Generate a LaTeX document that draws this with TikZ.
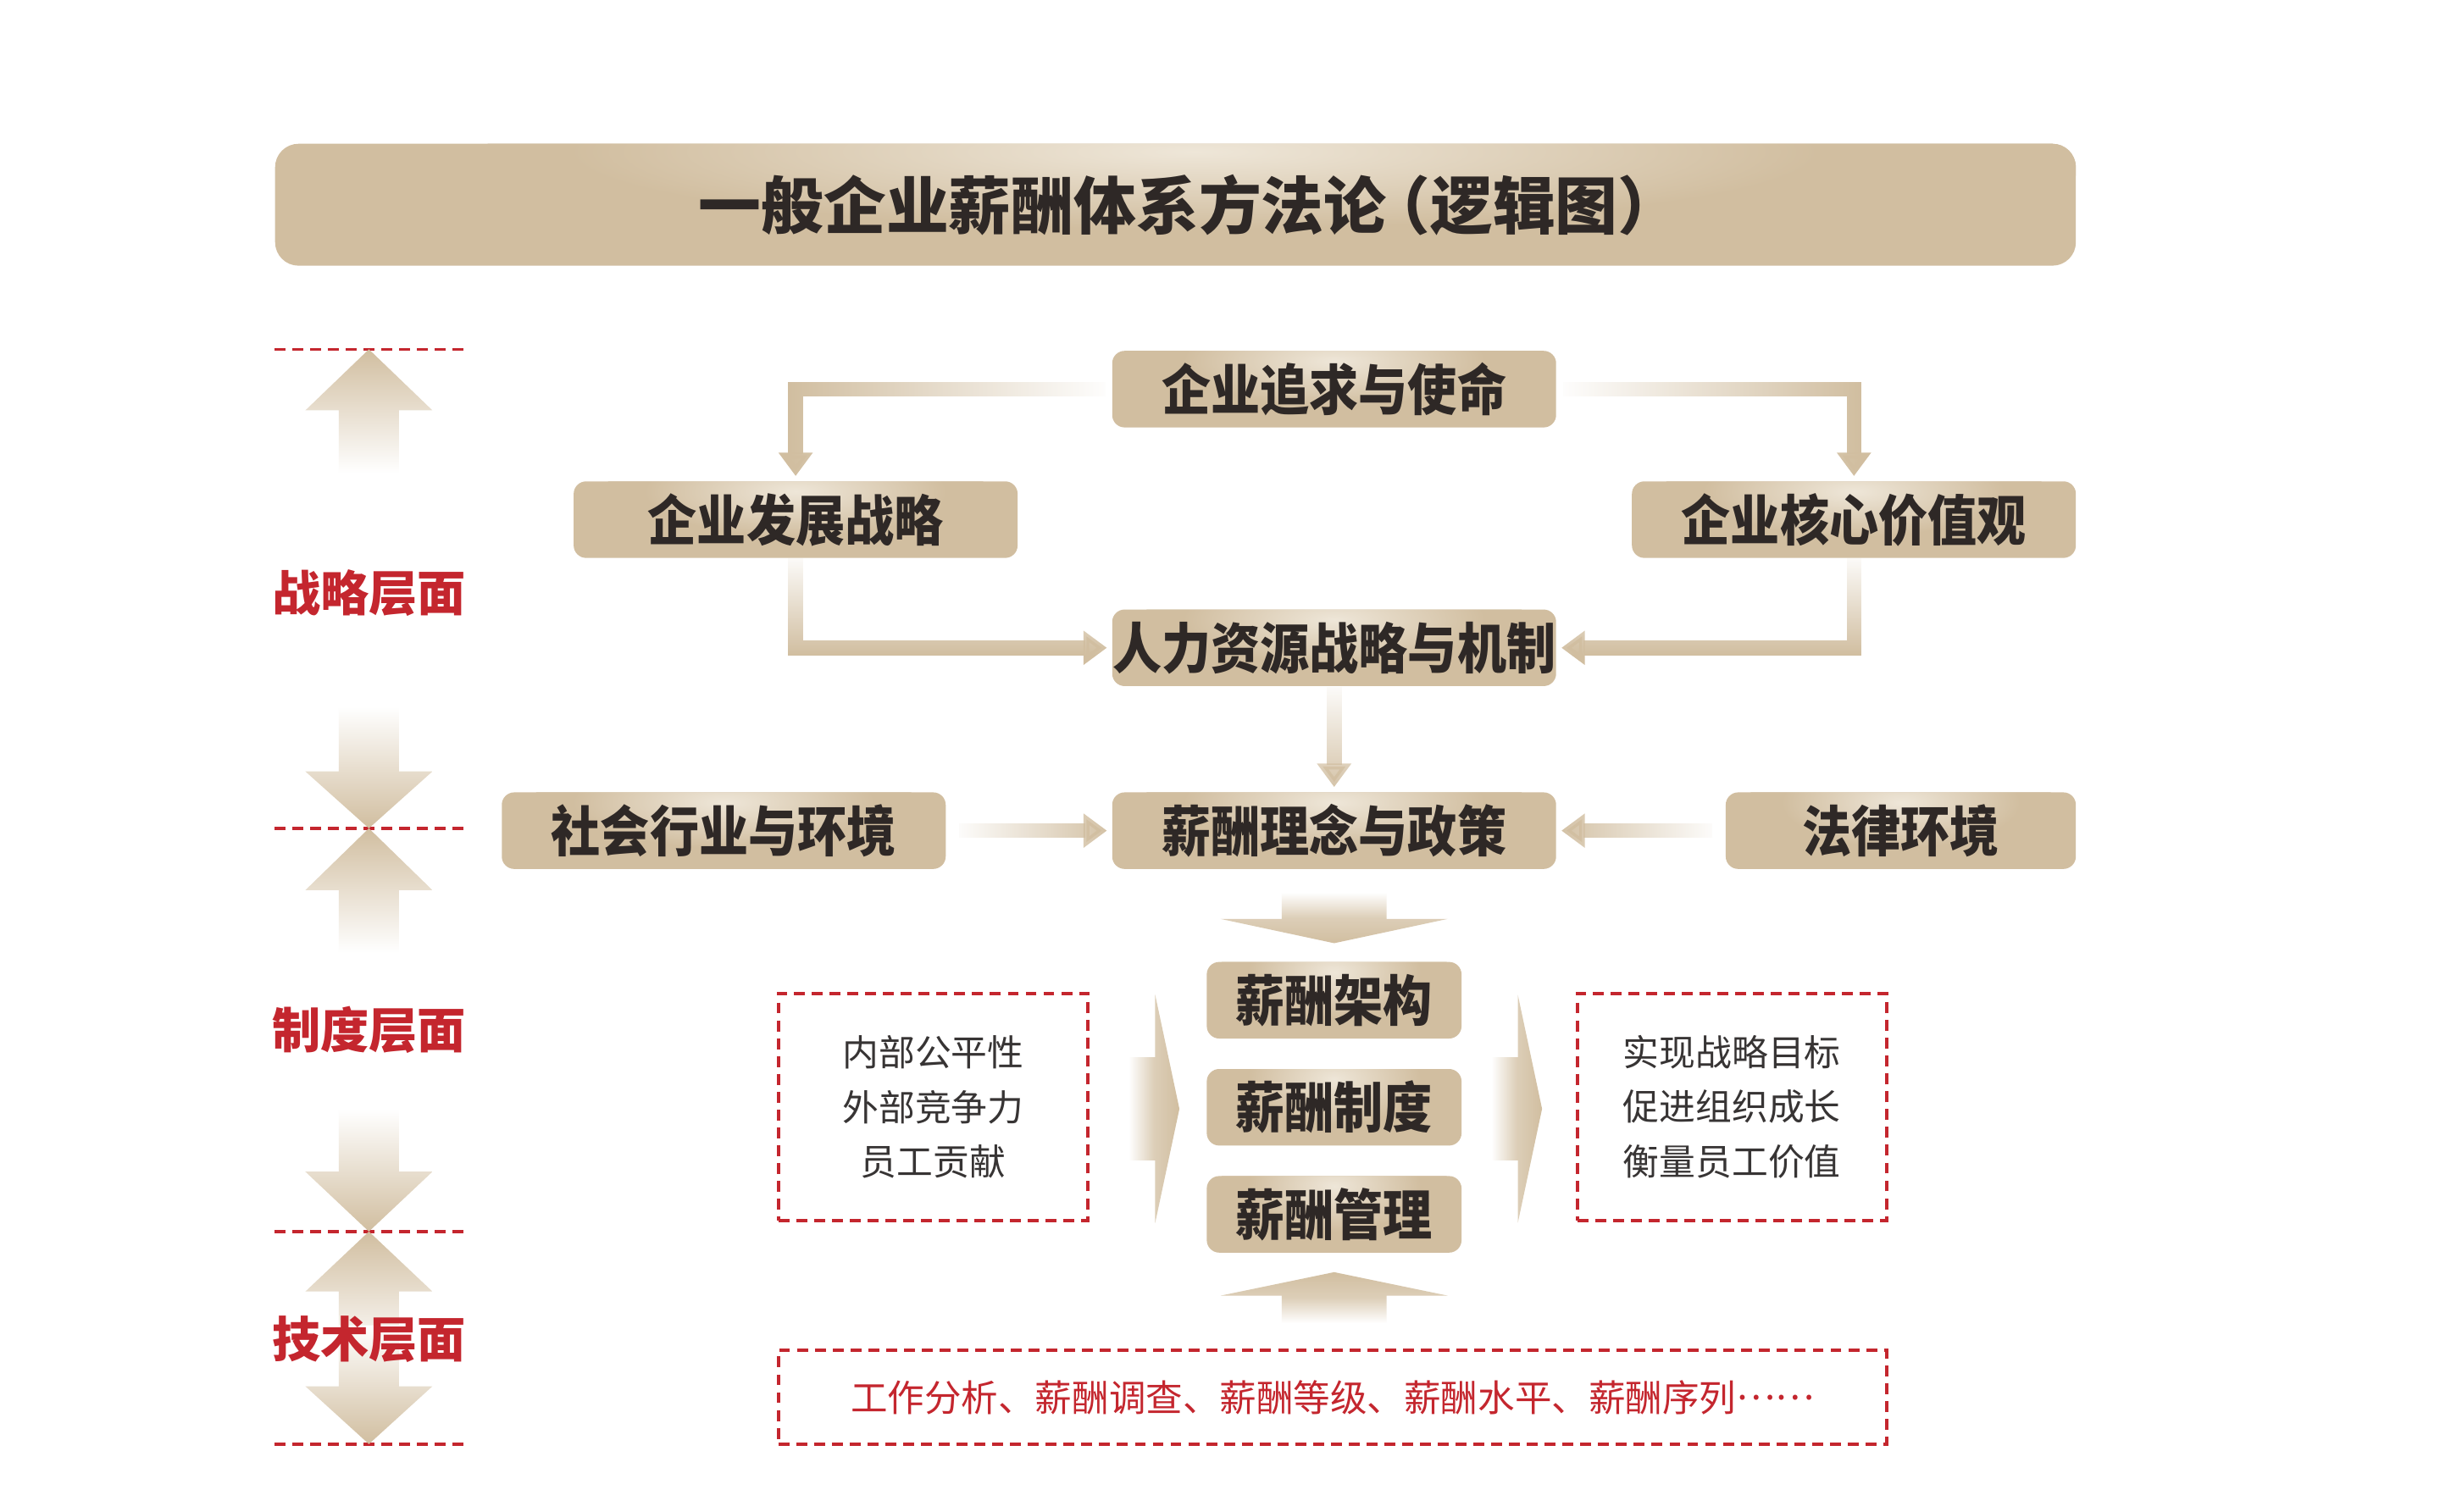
\documentclass[tikz,border=0pt]{standalone}
\usepackage{fontspec}
\usetikzlibrary{arrows.meta,fadings}
\newfontfamily\cjk{Noto Sans CJK SC}
\newfontfamily\cjkn{Noto Sans CJK SC}[FakeStretch=0.9]
\definecolor{boxtan}{RGB}{209,190,160}
\definecolor{boxlight}{RGB}{238,230,216}
\definecolor{redc}{RGB}{196,38,46}
\definecolor{ink}{RGB}{46,40,38}
\definecolor{grayink}{RGB}{55,52,52}
\pgfdeclareradialshading{hilite}{\pgfpointorigin}{color(0bp)=(boxlight); color(17bp)=(boxtan); color(50bp)=(boxtan)}
\tikzfading[name=fadeR, left color=transparent!0, right color=transparent!100]
\tikzfading[name=fadeL, left color=transparent!100, right color=transparent!0]
\tikzfading[name=fadeT, top color=transparent!100, bottom color=transparent!0]
\tikzset{
  tanbox/.style={rounded corners=4pt, fill=boxtan, inner sep=0pt, minimum height=24.5pt, text=ink,
     font=\cjkn\bfseries\fontsize{17.5}{17.5}\selectfont,
     path picture={\shade[shading=hilite] (path picture bounding box.north) ellipse [x radius=#1, y radius=18pt];}},
  tanbox/.default=60pt,
  titlebox/.style={rounded corners=7.5pt, fill=boxtan, inner sep=0pt, minimum width=576pt, minimum height=39pt, text=ink,
     font=\cjk\bfseries\fontsize{20}{20}\selectfont,
     path picture={\shade[shading=hilite] ([xshift=40pt]path picture bounding box.north) ellipse [x radius=260pt, y radius=34pt];}},
  conn/.style={draw=boxtan, line width=4.75pt, line join=miter, -{Triangle[width=10.5pt,length=7.5pt]}, shorten >=1.5pt},
  layerlabel/.style={text=redc, font=\cjk\bfseries\fontsize{15.5}{15.5}\selectfont, inner sep=0pt},
  redash/.style={draw=redc, line width=1pt, dash pattern=on 3.5pt off 2.2pt},
  notebox/.style={redash, inner sep=0pt, text=grayink, font=\cjk\fontsize{11.6}{17.6}\selectfont, align=center},
}
% vertical block arrow: #1 shading opts, #2 cx, #3 half shaft, #4 half head, #5 tail y, #6 base y, #7 tip y
\newcommand\varrow[7]{\shade[#1] (#2-#3,#5) -- (#2+#3,#5) -- (#2+#3,#6) -- (#2+#4,#6) -- (#2,#7) -- (#2-#4,#6) -- (#2-#3,#6) -- cycle;}
% horizontal block arrow: #1 shading opts, #2 cy, #3 half shaft, #4 half head, #5 tail x, #6 base x, #7 tip x
\newcommand\harrow[7]{\shade[#1] (#5,#2-#3) -- (#5,#2+#3) -- (#6,#2+#3) -- (#6,#2+#4) -- (#7,#2) -- (#6,#2-#4) -- (#6,#2-#3) -- cycle;}
\begin{document}
\begin{tikzpicture}[x=0.5pt,y=-0.5pt]
\useasboundingbox (0,0) rectangle (1568,967);
\fill[white] (0,0) rectangle (1568,967);

% title
\node[titlebox] (title) at (752,131) {一般企业薪酬体系方法论\kern-0.3em（逻辑图）\kern-0.45em};

% left axis dashed lines
\draw[redash] (175.6,223.5) -- (296.4,223.5);
\draw[redash] (175.6,530) -- (296.4,530);
\draw[redash] (175.6,788) -- (296.4,788);
\draw[redash] (175.6,924) -- (296.4,924);

% left axis arrows
\varrow{top color=boxtan, bottom color=white}{236}{19.25}{40.65}{302.8}{262.6}{223.5}
\varrow{top color=white, bottom color=boxtan}{236}{19.25}{40.65}{452}{493.6}{530}
\varrow{top color=boxtan, bottom color=white}{236}{19.25}{40.65}{609.7}{569.6}{530}
\varrow{top color=white, bottom color=boxtan}{236}{19.25}{40.65}{709.6}{749.7}{788}
\varrow{top color=boxtan, bottom color=white}{236}{19.25}{40.65}{868}{826.4}{788}
\varrow{top color=white, bottom color=boxtan}{236}{19.25}{40.65}{848}{887}{924}

% layer labels
\node[layerlabel] (lstrat) at (236,379.5) {战略层面};
\node[layerlabel] (lsys) at (236,659) {制度层面};
\node[layerlabel] (ltech) at (236,857) {技术层面};

% main boxes
\node[tanbox, minimum width=142pt] (mission) at (853.5,249) {企业追求与使命};
\node[tanbox, minimum width=142pt] (strategy) at (509,332.5) {企业发展战略};
\node[tanbox, minimum width=142pt] (values) at (1186,332.5) {企业核心价值观};
\node[tanbox, minimum width=142pt] (hr) at (853.5,414.5) {人力资源战略与机制};
\node[tanbox, minimum width=142pt] (social) at (463,531.5) {社会行业与环境};
\node[tanbox, minimum width=142pt] (policy) at (853.5,531.5) {薪酬理念与政策};
\node[tanbox=48pt, minimum width=112pt] (law) at (1216,531.5) {法律环境};
\node[tanbox=36pt, minimum width=81.5pt] (arch) at (853.5,640) {薪酬架构};
\node[tanbox=36pt, minimum width=81.5pt] (sys) at (853.5,708.5) {薪酬制度};
\node[tanbox=36pt, minimum width=81.5pt] (mgmt) at (853.5,777) {薪酬管理};

% connectors
\draw[conn, path fading=fadeR] ([xshift=-2pt]mission.west) -| (strategy.north);
\draw[conn, path fading=fadeL] ([xshift=2pt]mission.east) -| (values.north);
\draw[conn, path fading=fadeT] (strategy.south) |- (hr.west);
\draw[conn, path fading=fadeT] (values.south) |- (hr.east);
\draw[conn, path fading=fadeT] ([xshift=-8pt]hr.south) ([xshift=8pt]hr.south) (hr.south) -- (policy.north);
\draw[conn, path fading=fadeL] ([xshift=4pt,yshift=6pt]social.east) ([xshift=4pt,yshift=-6pt]social.east) ([xshift=4pt]social.east) -- (policy.west);
\draw[conn, path fading=fadeR] ([xshift=-4pt,yshift=6pt]law.west) ([xshift=-4pt,yshift=-6pt]law.west) ([xshift=-4pt]law.west) -- (policy.east);

% block arrows around the stack
\varrow{top color=white, bottom color=boxtan, middle color=boxtan!75!white}{853.5}{33.5}{72.5}{571}{588}{603.5}
\varrow{top color=boxtan, bottom color=white, middle color=boxtan!75!white}{853.5}{33.5}{72.5}{846.6}{829}{814}
\harrow{left color=white, right color=boxtan, middle color=boxtan!75!white}{709.5}{33}{73}{722}{739}{754.5}
\harrow{left color=white, right color=boxtan, middle color=boxtan!75!white}{709.5}{33}{73}{954}{971}{986.5}

% dashed note boxes
\node[notebox, minimum width=99pt, minimum height=72.65pt] (inputs) at (597,708.25) {内部公平性\\外部竞争力\\员工贡献};
\node[notebox, minimum width=99pt, minimum height=72.65pt] (outputs) at (1108,708.25) {实现战略目标\\促进组织成长\\衡量员工价值};
\node[notebox, minimum width=354.5pt, minimum height=30pt, text=redc, font=\cjk\fontsize{11.8}{11.8}\selectfont] (tech) at (852.5,894) {工作分析、薪酬调查、薪酬等级、薪酬水平、薪酬序列\raisebox{0.3em}{……}};
\end{tikzpicture}
\end{document}
